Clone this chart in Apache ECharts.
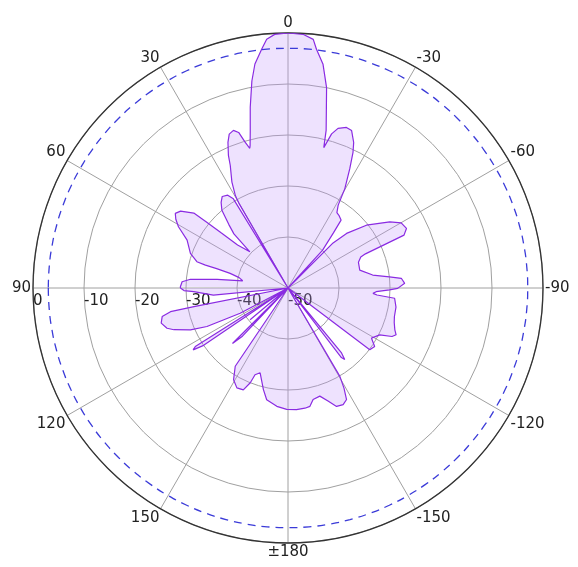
<!DOCTYPE html>
<html><head><meta charset="utf-8">
<script src="https://cdn.jsdelivr.net/npm/echarts@6/dist/echarts.min.js"></script>
<style>html,body{margin:0;padding:0;background:#fff}#c{width:578px;height:567px}</style>
</head><body><div id="c"></div>
<script>
// Measured pattern: angle in degrees (positive = counter-clockwise from top), gain in dB
const patternAngles = [
  -180, -176, -172, -169.5, -167.3, -163.6, -160.5, -157.7, -154.7, -152.3, -150.8, -149.6, -148.8,
  -144.5, -142.5, -141.6, -140.5, -138.5,
  -128.5, -127.1, -124, -121, -117.1, -115, -113.4, -111.4, -108, -105, -100, -95.5, -94.8, -94.5, -93.6, -92.4, -91.1, -90.2, -87.7, -85.1, -83.7, -81.3, -76, -70, -67, -66.2, -65.5, -63.3, -60.1, -57, -51.3, -47, -45, -43.6,
  -42.5, -39.5, -38, -35, -33, -31.2,
  -29.8, -27.4, -25.6, -24.3, -22, -20, -17.4, -15.8, -14.3,
  -13.6, -12, -10.9, -8.9, -6.8, -5.8, -3.5, 0, 3, 4.9, 6.3, 8.4, 9.9, 11.8, 13.5, 14.9, 15.3,
  16.4, 17.6, 19.1, 20.9, 22.4, 24.2, 25.2, 27.9, 29.7, 30.1, 30.5,
  31.5, 33, 35.7, 38, 40.4, 43, 45, 46.5,
  47.5, 49.5, 50.5, 51, 51.5, 54.4, 56.5, 58.5, 60.8, 64.6, 70.5, 73.9, 74.5, 74.8, 75.8, 78, 81,
  83, 84.9, 86.6, 89.3, 90, 91.4, 92.2, 95.4, 97,
  100.8, 101.2, 101.4, 102.8, 105.5, 108.4, 110.1, 113.2, 115.4, 117.8, 118.5,
  120.5, 122.3, 123.1, 124.2, 126,
  129, 130, 131,
  133, 135, 135.6, 136.6, 138,
  145.5, 146, 149.3, 152.9, 156.3, 158.3, 159.2, 161.8, 166.4, 169.2, 174.6, 179.4
];
const patternGains = [
  -26.2, -26.1, -26.2, -26.4, -27.6, -27.9, -26.5, -24.9, -24.7, -25.3, -27.5, -29.9, -50,
  -50, -32.8, -32.1, -33.5, -50,
  -50, -29.9, -29.5, -30.9, -29.8, -27.5, -26.9, -27.5, -28.1, -28.4, -28.5, -29, -29.4, -32.5, -33.3, -32.7, -30.1, -28.5, -27.1, -27.7, -30, -33.2, -35.5, -35.3, -34.5, -33.4, -25, -24.0, -24.4, -26.2, -30.3, -34.3, -37.5, -50,
  -40, -36, -33.1, -32.6, -32.4, -31,
  -27.6, -23.7, -20.5, -18.7, -16.7, -16.5, -17.2, -18.6, -21.6,
  -18.2, -13.8, -10, -5.6, -2.85, -1.0, -0.2, 0, -0.2, -1.05, -2.9, -5.6, -8.8, -13.8, -18.3, -21.1, -21.6,
  -20.2, -18.0, -17.3, -17.7, -19.1, -21.5, -23.4, -26.5, -29.2, -31, -50,
  -29.5, -28.3, -27.9, -28.7, -30, -33, -35, -39.7,
  -40, -37, -33, -29.5, -26.4, -24.1, -23.5, -24.2, -25.4, -28.1, -29.7, -31.4, -33.2, -35.5, -38.3, -40.2, -41,
  -36, -30.8, -29.2, -28.9, -28.9, -29.6, -31.5, -35.3, -50,
  -50, -31.2, -26.5, -24.7, -24.2, -25, -26.2, -29.2, -32.4, -39.4, -50,
  -50, -28.5, -27.8, -30, -50,
  -50, -40.3, -50,
  -50, -34.6, -34.4, -37, -50,
  -50, -31.5, -29.1, -28.0, -28.2, -30, -31.8, -32.5, -29.5, -27.7, -26.7, -26.2
];
// -3 dB reference level
const refLevel = -3;
// Angle tick labels, from the 90 direction going counter-clockwise
const angleTickLabels = ['90', '120', '150', '\u00b1180', '-150', '-120', '-90', '-60', '-30', '0', '30', '60', '90'];
const radiusMin = -50, radiusMax = 0, radiusStep = 10;

// Map angle (deg, -180..180) onto axis range 90..450
function toAxisAngle(a) { return a < 90 ? a + 360 : a; }
const pts = patternAngles.map((a, i) => [patternGains[i], toAxisAngle(a)]).sort((p, q) => p[1] - q[1]);
if (pts[0][1] === 90) pts.push([pts[0][0], 450]);

const refPts = [];
for (let a = 90; a <= 450; a += 5) refPts.push([refLevel, a]);

const font = 'DejaVu Sans';
const chart = echarts.init(document.getElementById('c'), null, { renderer: 'canvas' });
chart.setOption({
  animation: false,
  backgroundColor: '#fff',
  polar: { center: [288, 288], radius: 255 },
  angleAxis: {
    type: 'value', min: 90, max: 450, interval: 30, startAngle: 180, clockwise: false,
    axisLine: { lineStyle: { color: '#333', width: 1.3 } },
    axisTick: { show: false },
    axisLabel: {
      margin: 2, fontSize: 15, fontFamily: font, color: '#222',
      formatter: v => angleTickLabels[Math.round((v - 90) / 30)]
    },
    splitLine: { show: true, lineStyle: { color: '#a0a0a0', width: 1 } }
  },
  radiusAxis: {
    type: 'value', min: radiusMin, max: radiusMax, interval: radiusStep,
    axisLine: { show: false }, axisTick: { show: false },
    axisLabel: {
      showMinLabel: true, showMaxLabel: true,
      margin: 6, fontSize: 15, fontFamily: font, color: '#222',
      align: 'left', verticalAlign: 'top'
    },
    splitLine: { show: true, lineStyle: { color: '#a0a0a0', width: 1 } }
  },
  series: [
    {
      type: 'line', coordinateSystem: 'polar', data: pts, symbol: 'none',
      lineStyle: { color: '#8a2be2', width: 1.2 },
      areaStyle: { color: 'rgba(195,150,250,0.4)', origin: 'start' },
      silent: true, z: 3
    },
    {
      type: 'line', coordinateSystem: 'polar', data: refPts, symbol: 'none', smooth: true,
      lineStyle: { color: '#3b3bd8', width: 1.3, type: [8, 6] },
      silent: true, z: 4
    }
  ]
});
</script>
</body></html>
